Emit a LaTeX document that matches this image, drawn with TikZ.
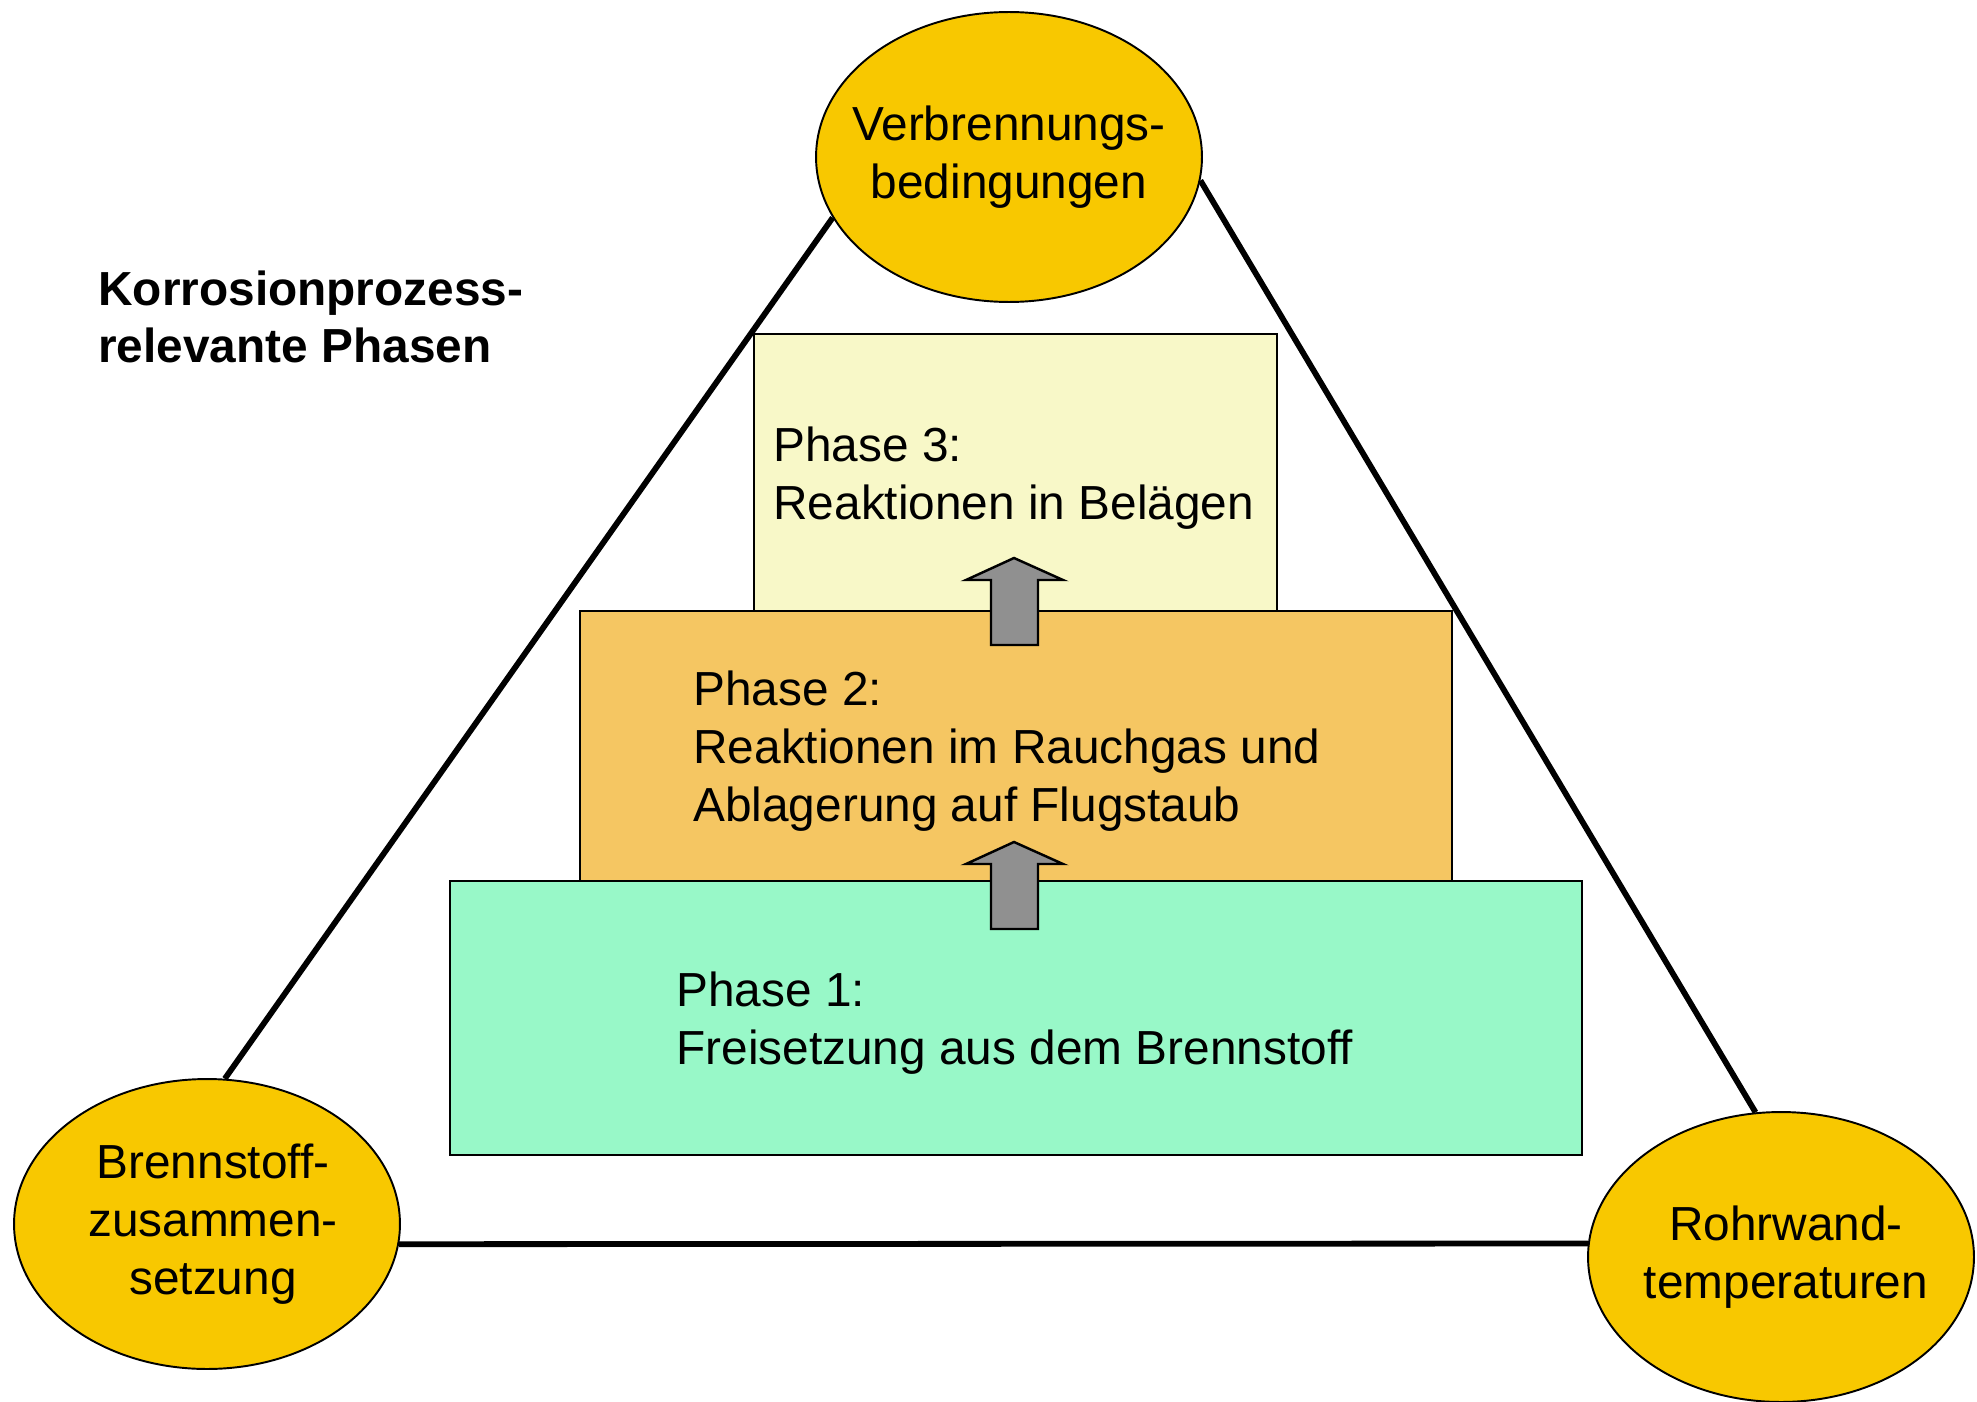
\documentclass[tikz,border=0pt]{standalone}
\usepackage{fontspec}
\setmainfont{Liberation Sans}
\usetikzlibrary{shapes.geometric}
\definecolor{factorfill}{RGB}{248,200,0}
\definecolor{phaseone}{RGB}{152,248,200}
\definecolor{phasetwo}{RGB}{245,198,98}
\definecolor{phasethree}{RGB}{248,248,200}
\definecolor{arrowgray}{RGB}{144,144,144}

\begin{document}
\begin{tikzpicture}[x=0.02cm,y=-0.02cm,
  font=\fontsize{27.2}{33}\selectfont,
  factor/.style={ellipse,draw,line width=1.1pt,fill=factorfill,minimum width=7.72cm,minimum height=5.8cm,inner sep=0pt},
  factortext/.style={align=center,inner sep=0pt},
  phasebox/.style={rectangle,draw,line width=1.4pt,inner sep=0pt,anchor=north west},
  phasetext/.style={align=left,anchor=west,inner sep=0pt},
  edge/.style={line width=3.3pt},
  blockarrow/.style={draw,line width=1.4pt,fill=arrowgray,line join=miter}]
  \useasboundingbox (0,0) rectangle (1977,1402);
  \fill[white] (0,0) rectangle (1977,1402);
  % ---------------- phases ----------------
  \node[phasebox,fill=phasethree,minimum width=10.46cm,minimum height=5.54cm] (p3) at (753,333) {};
  \node[phasebox,fill=phasetwo,minimum width=17.44cm,minimum height=5.4cm] (p2) at (579,610) {};
  \node[phasebox,fill=phaseone,minimum width=22.64cm,minimum height=5.48cm] (p1) at (449,880) {};
  \foreach \yb in {645,929}
    \draw[blockarrow] (991,\yb) -- (991,\yb-65) -- (966,\yb-65) -- (1014,\yb-87) -- (1063,\yb-65) -- (1038,\yb-65) -- (1038,\yb) -- cycle;
  \node[phasetext] (t3) at (773,478) {Phase 3:\\Reaktionen in Belägen};
  \node[phasetext] (t2) at (693,751) {Phase 2:\\Reaktionen im Rauchgas und\\Ablagerung auf Flugstaub};
  \node[phasetext] (t1) at (676,1023) {Phase 1:\\Freisetzung aus dem Brennstoff};
  \node[phasetext,font=\fontsize{27.2}{32}\selectfont\bfseries] (title) at (98,317) {Korrosionprozess-\\relevante Phasen};
  % ---------------- influencing factors ----------------
  \node[factor,label={[factortext]center:Verbrennungs-\\bedingungen}] (verb) at (1009,157) {};
  \node[factor,label={[factortext,xshift=0.12cm]center:Brennstoff-\\zusammen-\\setzung}] (brenn) at (207,1224) {};
  \node[factor,label={[factortext,xshift=0.1cm]center:Rohrwand-\\temperaturen}] (rohr) at (1781,1257) {};
  \draw[edge] (verb.199) -- (brenn.83);
  \draw[edge] (verb.-7) -- (rohr.100);
  \draw[edge] (brenn.-6) -- (rohr.176);
\end{tikzpicture}
\end{document}
